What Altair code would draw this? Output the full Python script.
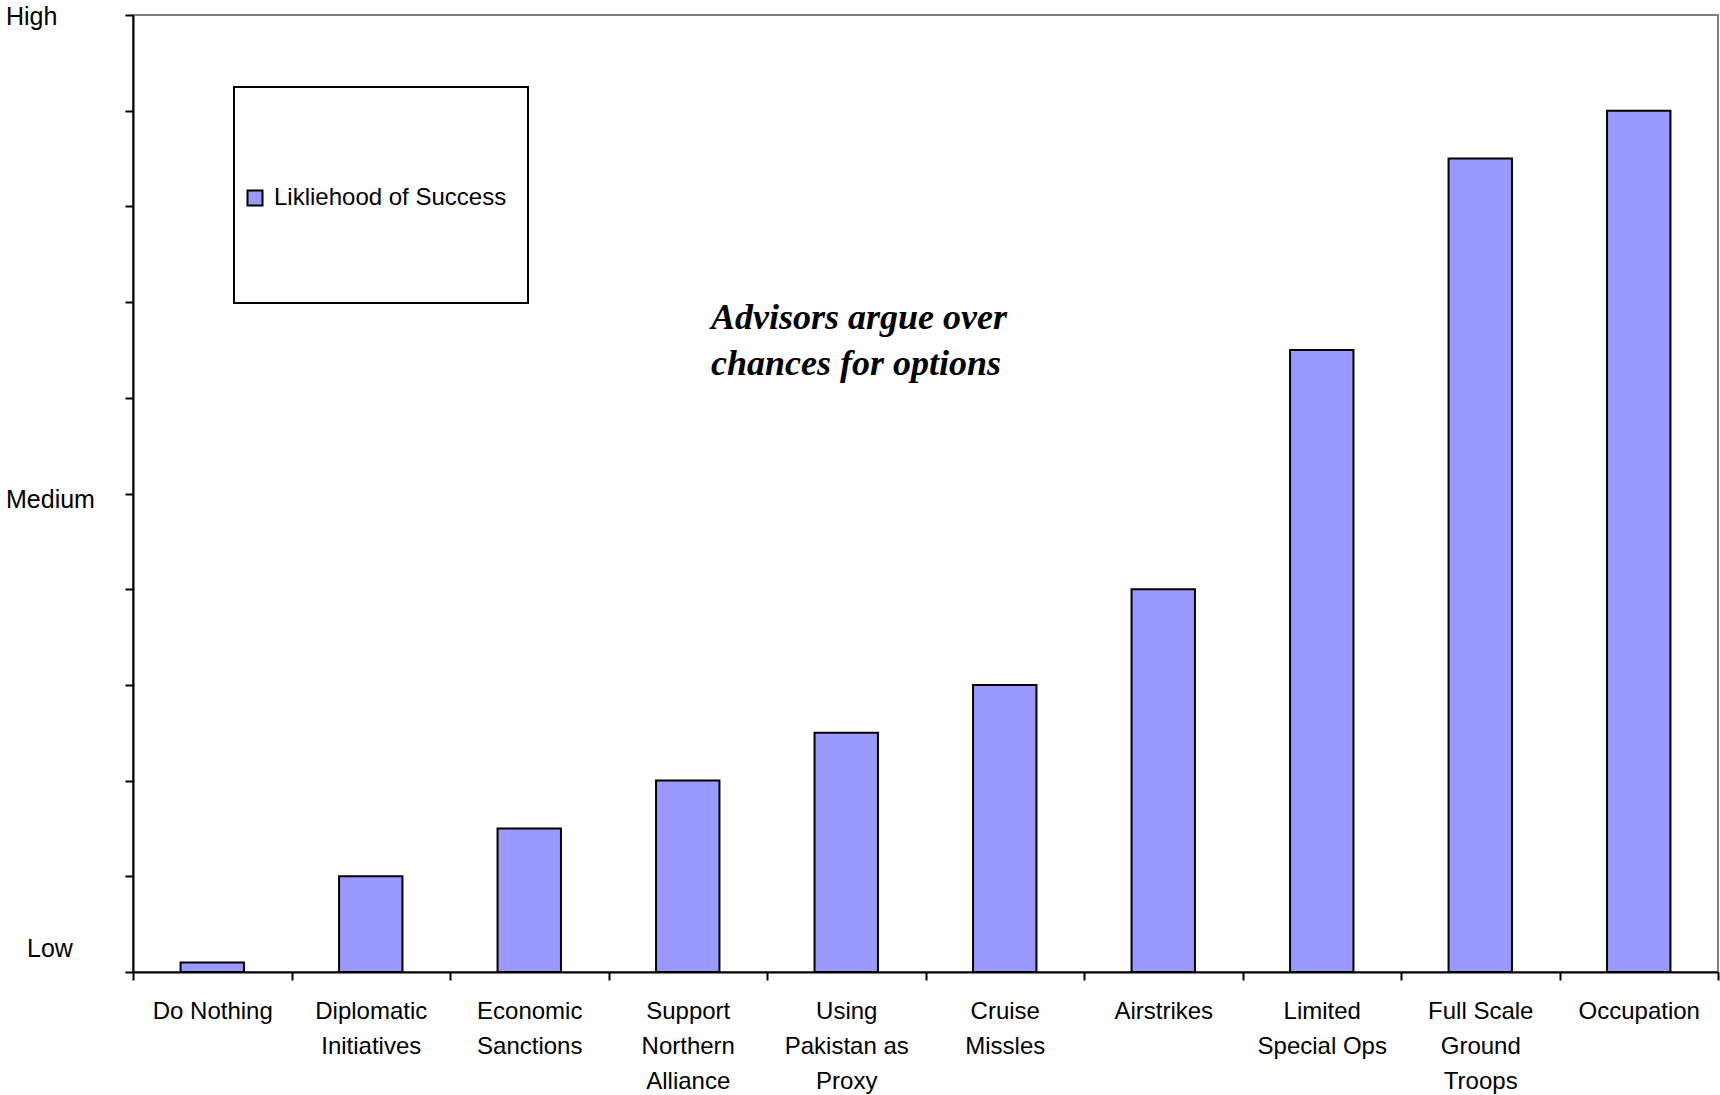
import altair as alt
import pandas as pd

# Options under discussion and their rated likelihood of success (0 = Low, 10 = High)
options = [
    "Do Nothing",
    "Diplomatic\nInitiatives",
    "Economic\nSanctions",
    "Support\nNorthern\nAlliance",
    "Using\nPakistan as\nProxy",
    "Cruise\nMissles",
    "Airstrikes",
    "Limited\nSpecial Ops",
    "Full Scale\nGround\nTroops",
    "Occupation",
]
likelihood = [0.1, 1.0, 1.5, 2.0, 2.5, 3.0, 4.0, 6.5, 8.5, 9.0]
series_name = "Likliehood of Success"

level_names = ["Low", "Medium", "High"]
level_values = [0, 5, 10]

note = "Advisors argue over\nchances for options"

bars_df = pd.DataFrame({"option": options, "value": likelihood, "series": series_name})
one_row = pd.DataFrame({"k": [0]})

W, H = 1585, 957
y_scale = alt.Scale(domain=[0, 10], nice=False, zero=True)

# framed box behind the legend
legend_box = alt.Chart(one_row).mark_rect(
    fill="white", stroke="black", strokeWidth=2
).encode(
    x=alt.value(101), x2=alt.value(395), y=alt.value(72), y2=alt.value(288)
)

bars = alt.Chart(bars_df).mark_bar(
    width=alt.RelativeBandSize(0.4), stroke="black", strokeWidth=2
).encode(
    x=alt.X(
        "option:N",
        sort=options,
        scale=alt.Scale(paddingInner=0, paddingOuter=0),
        axis=alt.Axis(
            title=None,
            grid=False,
            domainColor="black",
            domainWidth=2,
            tickColor="black",
            tickWidth=2,
            tickSize=8,
            tickBand="extent",
            labelAngle=0,
            labelFont="Liberation Sans",
            labelFontSize=24,
            labelColor="black",
            labelPadding=19,
            labelLineHeight=35,
            labelLimit=0,
            labelOverlap=False,
            labelExpr="split(datum.label, '\\n')",
            zindex=2,
        ),
    ),
    y=alt.Y(
        "value:Q",
        scale=y_scale,
        axis=alt.Axis(
            title=None,
            grid=False,
            labels=False,
            values=list(range(0, 11)),
            domainColor="black",
            domainWidth=2,
            tickColor="black",
            tickWidth=2,
            tickSize=8,
            zindex=2,
        ),
    ),
    color=alt.Color(
        "series:N",
        scale=alt.Scale(range=["#9999FF"]),
        legend=alt.Legend(
            title=None,
            orient="none",
            legendX=110,
            legendY=171,
            padding=0,
            symbolType="square",
            symbolSize=225,
            symbolStrokeColor="black",
            symbolStrokeWidth=2,
            labelFont="Liberation Sans",
            labelFontSize=24,
            labelColor="black",
            labelOffset=7,
            labelLimit=0,
        ),
    ),
)

annotation = alt.Chart(pd.DataFrame({"note": [note]})).mark_text(
    align="left",
    baseline="alphabetic",
    font="Liberation Serif",
    fontStyle="italic",
    fontWeight="bold",
    fontSize=36,
    lineHeight=46,
    lineBreak="\n",
    color="black",
).encode(x=alt.value(578), y=alt.value(314), text="note:N")


def level_label(name, value, x_px, dy):
    df = pd.DataFrame({"name": [name], "level": [value]})
    return alt.Chart(df).mark_text(
        align="left",
        baseline="alphabetic",
        font="Liberation Sans",
        fontSize=25,
        color="black",
        dy=dy,
    ).encode(x=alt.value(x_px), y=alt.Y("level:Q", scale=y_scale), text="name:N")


low_lbl = level_label(level_names[0], level_values[0], -106, -15)
mid_lbl = level_label(level_names[1], level_values[1], -127, 14)
high_lbl = level_label(level_names[2], level_values[2], -127, 10)

chart = alt.layer(
    legend_box, bars, annotation, low_lbl, mid_lbl, high_lbl
).properties(
    width=W,
    height=H,
    padding={"left": 133, "top": 15, "right": 2, "bottom": 123},
    autosize=alt.AutoSizeParams(type="none"),
    background="white",
).configure_view(
    stroke="#808080", strokeWidth=2
)

chart.save("out.html", embed_options={"renderer": "svg", "actions": False})
